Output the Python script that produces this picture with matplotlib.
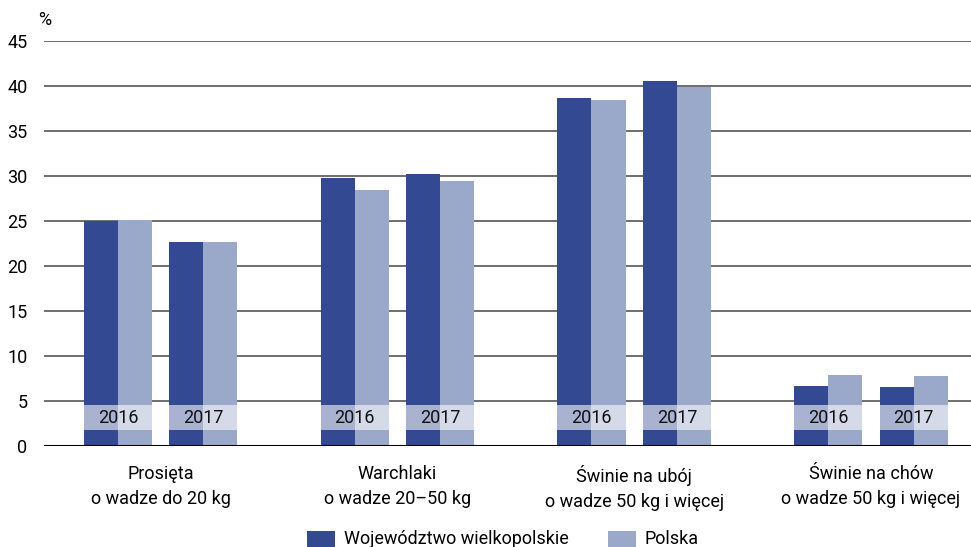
import matplotlib
matplotlib.use("Agg")
import matplotlib.pyplot as plt
from matplotlib.patches import Rectangle
import numpy as np

plt.rcParams['font.family'] = ['Liberation Sans Narrow', 'Roboto', 'DejaVu Sans']

categories = ["Prosięta\no wadze do 20 kg", "Warchlaki\no wadze 20–50 kg",
              "Świnie na ubój\no wadze 50 kg i więcej", "Świnie na chów\no wadze 50 kg i więcej"]
years = ["2016", "2017"]
wlkp_2016 = [25.0, 29.8, 38.7, 6.7]
wlkp_2017 = [22.7, 30.2, 40.6, 6.6]
pl_2016 = [25.1, 28.4, 38.4, 7.9]
pl_2017 = [22.7, 29.4, 39.9, 7.8]
series_names = ["Województwo wielkopolskie", "Polska"]
yticks = [0, 5, 10, 15, 20, 25, 30, 35, 40, 45]

c_dark = "#334a93"
c_light = "#9aa8c9"

fig = plt.figure(figsize=(9.71, 5.47), dpi=100)
ax = fig.add_axes([44/971, 1-446/547, 1-44/971, (446-41)/547])

gsp = 6.96
first = 2.18
yoff = 2.51
w = 1.0
for g in range(4):
    for yi, (d, l) in enumerate([(wlkp_2016, pl_2016), (wlkp_2017, pl_2017)]):
        c = first + gsp*g + yoff*yi
        ax.bar(c - w/2, d[g], width=w, color=c_dark, zorder=3)
        ax.bar(c + w/2, l[g], width=w, color=c_light, zorder=3)
        ax.add_patch(Rectangle((c - w, 1.78), 2*w, 2.78, facecolor="white", alpha=0.58,
                               edgecolor="none", zorder=4))
        ax.text(c, 3.1, years[yi], ha="center", va="center", fontsize=13, zorder=5, color="#111")

ax.set_xlim(0, 27.26)
ax.set_ylim(0, 45)
ax.set_yticks(yticks)
ax.set_yticklabels([str(t) for t in yticks], fontsize=13)
ax.tick_params(axis='y', length=0, pad=12)
ax.yaxis.grid(True, color="#555555", linewidth=1.2, zorder=0)
ax.axhline(0, color="black", linewidth=1.5, zorder=6)
for s in ax.spines.values():
    s.set_visible(False)
centers = [first + gsp*g + yoff/2 for g in range(4)]
ax.set_xticks(centers)
ax.set_xticklabels(categories, fontsize=13, linespacing=1.5)
ax.tick_params(axis='x', length=0, pad=14)

fig.text(38/971, 1-20/547, "%", fontsize=13, ha="left", va="center")

# legend
for x0, col, name in [(307, c_dark, series_names[0]), (608, c_light, series_names[1])]:
    fig.patches.append(Rectangle((x0/971, 0), 28/971, 16/547, transform=fig.transFigure,
                                 facecolor=col, edgecolor="none"))
    fig.text((x0+37)/971, 1-539/547, name, fontsize=13, ha="left", va="center")

fig.savefig("out.png", dpi=100)
